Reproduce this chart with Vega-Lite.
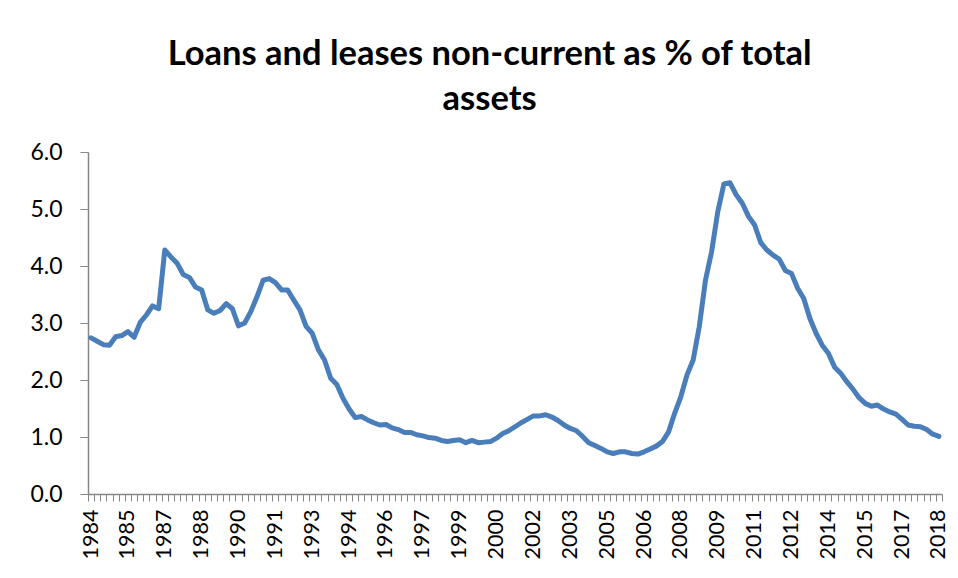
{
  "$schema": "https://vega.github.io/schema/vega-lite/v6.json",
  "width": 854,
  "height": 342,
  "autosize": "none",
  "padding": {"left": 88, "top": 152, "right": 16, "bottom": 84},
  "background": "white",
  "title": {
    "text": ["Loans and leases non-current as % of total", "assets"],
    "font": "Lato",
    "fontSize": 34.5,
    "fontWeight": "bold",
    "color": "black",
    "lineHeight": 45,
    "anchor": "middle",
    "frame": "bounds",
    "offset": 24
  },
  "data": {
    "values": [
      {"q":"1984Q1","v":2.74},{"q":"1984Q2","v":2.68},{"q":"1984Q3","v":2.62},{"q":"1984Q4","v":2.61},
      {"q":"1985Q1","v":2.76},{"q":"1985Q2","v":2.78},{"q":"1985Q3","v":2.85},{"q":"1985Q4","v":2.75},
      {"q":"1986Q1","v":3.01},{"q":"1986Q2","v":3.14},{"q":"1986Q3","v":3.30},{"q":"1986Q4","v":3.25},
      {"q":"1987Q1","v":4.28},{"q":"1987Q2","v":4.16},{"q":"1987Q3","v":4.05},{"q":"1987Q4","v":3.85},
      {"q":"1988Q1","v":3.80},{"q":"1988Q2","v":3.63},{"q":"1988Q3","v":3.58},{"q":"1988Q4","v":3.23},
      {"q":"1989Q1","v":3.17},{"q":"1989Q2","v":3.22},{"q":"1989Q3","v":3.34},{"q":"1989Q4","v":3.25},
      {"q":"1990Q1","v":2.95},{"q":"1990Q2","v":3.00},{"q":"1990Q3","v":3.20},{"q":"1990Q4","v":3.46},
      {"q":"1991Q1","v":3.75},{"q":"1991Q2","v":3.78},{"q":"1991Q3","v":3.71},{"q":"1991Q4","v":3.58},
      {"q":"1992Q1","v":3.58},{"q":"1992Q2","v":3.40},{"q":"1992Q3","v":3.23},{"q":"1992Q4","v":2.94},
      {"q":"1993Q1","v":2.82},{"q":"1993Q2","v":2.53},{"q":"1993Q3","v":2.35},{"q":"1993Q4","v":2.03},
      {"q":"1994Q1","v":1.92},{"q":"1994Q2","v":1.68},{"q":"1994Q3","v":1.49},{"q":"1994Q4","v":1.34},
      {"q":"1995Q1","v":1.36},{"q":"1995Q2","v":1.30},{"q":"1995Q3","v":1.25},{"q":"1995Q4","v":1.21},
      {"q":"1996Q1","v":1.22},{"q":"1996Q2","v":1.16},{"q":"1996Q3","v":1.13},{"q":"1996Q4","v":1.08},
      {"q":"1997Q1","v":1.08},{"q":"1997Q2","v":1.04},{"q":"1997Q3","v":1.02},{"q":"1997Q4","v":0.99},
      {"q":"1998Q1","v":0.98},{"q":"1998Q2","v":0.94},{"q":"1998Q3","v":0.92},{"q":"1998Q4","v":0.94},
      {"q":"1999Q1","v":0.95},{"q":"1999Q2","v":0.90},{"q":"1999Q3","v":0.94},{"q":"1999Q4","v":0.90},
      {"q":"2000Q1","v":0.91},{"q":"2000Q2","v":0.92},{"q":"2000Q3","v":0.98},{"q":"2000Q4","v":1.06},
      {"q":"2001Q1","v":1.11},{"q":"2001Q2","v":1.18},{"q":"2001Q3","v":1.25},{"q":"2001Q4","v":1.31},
      {"q":"2002Q1","v":1.37},{"q":"2002Q2","v":1.37},{"q":"2002Q3","v":1.39},{"q":"2002Q4","v":1.35},
      {"q":"2003Q1","v":1.29},{"q":"2003Q2","v":1.21},{"q":"2003Q3","v":1.15},{"q":"2003Q4","v":1.11},
      {"q":"2004Q1","v":1.01},{"q":"2004Q2","v":0.90},{"q":"2004Q3","v":0.85},{"q":"2004Q4","v":0.80},
      {"q":"2005Q1","v":0.74},{"q":"2005Q2","v":0.71},{"q":"2005Q3","v":0.74},{"q":"2005Q4","v":0.74},
      {"q":"2006Q1","v":0.71},{"q":"2006Q2","v":0.70},{"q":"2006Q3","v":0.74},{"q":"2006Q4","v":0.79},
      {"q":"2007Q1","v":0.84},{"q":"2007Q2","v":0.92},{"q":"2007Q3","v":1.09},{"q":"2007Q4","v":1.42},
      {"q":"2008Q1","v":1.71},{"q":"2008Q2","v":2.09},{"q":"2008Q3","v":2.35},{"q":"2008Q4","v":2.94},
      {"q":"2009Q1","v":3.75},{"q":"2009Q2","v":4.25},{"q":"2009Q3","v":4.95},{"q":"2009Q4","v":5.44},
      {"q":"2010Q1","v":5.46},{"q":"2010Q2","v":5.25},{"q":"2010Q3","v":5.10},{"q":"2010Q4","v":4.87},
      {"q":"2011Q1","v":4.72},{"q":"2011Q2","v":4.41},{"q":"2011Q3","v":4.28},{"q":"2011Q4","v":4.19},
      {"q":"2012Q1","v":4.12},{"q":"2012Q2","v":3.92},{"q":"2012Q3","v":3.87},{"q":"2012Q4","v":3.61},
      {"q":"2013Q1","v":3.43},{"q":"2013Q2","v":3.08},{"q":"2013Q3","v":2.82},{"q":"2013Q4","v":2.61},
      {"q":"2014Q1","v":2.47},{"q":"2014Q2","v":2.23},{"q":"2014Q3","v":2.12},{"q":"2014Q4","v":1.97},
      {"q":"2015Q1","v":1.84},{"q":"2015Q2","v":1.69},{"q":"2015Q3","v":1.59},{"q":"2015Q4","v":1.54},
      {"q":"2016Q1","v":1.56},{"q":"2016Q2","v":1.49},{"q":"2016Q3","v":1.44},{"q":"2016Q4","v":1.40},
      {"q":"2017Q1","v":1.31},{"q":"2017Q2","v":1.21},{"q":"2017Q3","v":1.19},{"q":"2017Q4","v":1.18},
      {"q":"2018Q1","v":1.13},{"q":"2018Q2","v":1.05},{"q":"2018Q3","v":1.01}
    ]
  },
  "mark": {"type": "line", "color": "#4A7EBB", "strokeWidth": 5, "strokeJoin": "round", "strokeCap": "round"},
  "encoding": {
    "x": {
      "field": "q",
      "type": "ordinal",
      "scale": {"type": "band", "paddingInner": 0, "paddingOuter": 0},
      "axis": {
        "title": null,
        "orient": "bottom",
        "tickBand": "extent",
        "labelExpr": "isString(datum.value) && (((toNumber(slice(datum.value,0,4))-1984)*4 + toNumber(slice(datum.value,5,6)) - 1) % 6 == 0) ? slice(datum.value,0,4) : ''",
        "labelAngle": -90,
        "labelOverlap": false,
        "labelFont": "Lato",
        "labelFontSize": 21.5,
        "labelColor": "black",
        "labelPadding": 8,
        "tickSize": 7,
        "tickColor": "#868686",
        "domainColor": "#868686",
        "domainWidth": 1.5,
        "tickWidth": 1,
        "grid": false
      }
    },
    "y": {
      "field": "v",
      "type": "quantitative",
      "scale": {"domain": [0, 6], "nice": false},
      "axis": {
        "title": null,
        "values": [0, 1, 2, 3, 4, 5, 6],
        "format": ".1f",
        "labelFont": "Lato",
        "labelFontSize": 23,
        "labelColor": "black",
        "labelPadding": 18,
        "tickSize": 8,
        "tickColor": "#868686",
        "domainColor": "#868686",
        "domainWidth": 1.5,
        "grid": false
      }
    }
  },
  "config": {"view": {"stroke": null}}
}
